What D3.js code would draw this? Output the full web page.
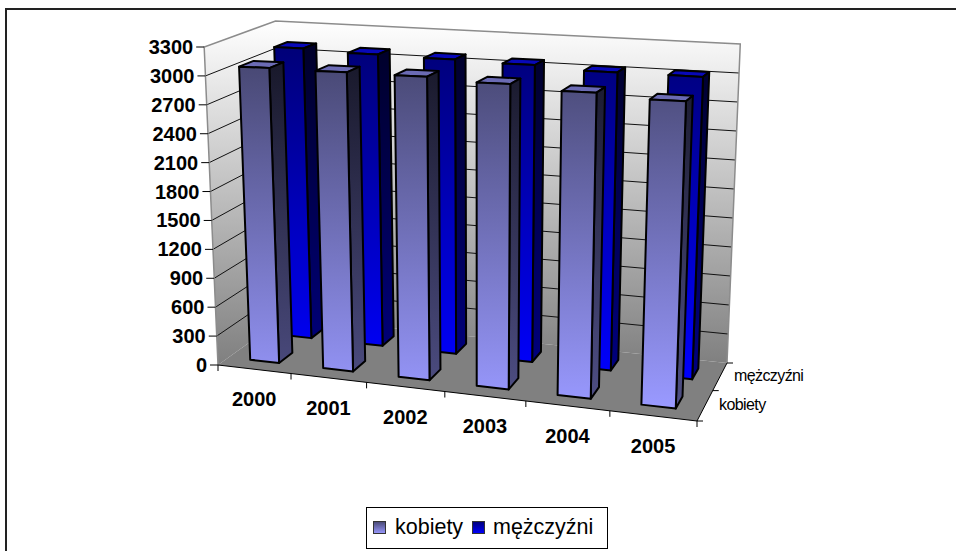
<!DOCTYPE html>
<html><head><meta charset="utf-8">
<script src="https://cdn.jsdelivr.net/npm/d3@7/dist/d3.min.js"></script>
<style>html,body{margin:0;padding:0;background:#fff}svg{display:block}text{font-family:"Liberation Sans",Arial,sans-serif;fill:#000}</style>
</head><body><svg id="c" width="956" height="551"></svg>
<script>
const years = ["2000","2001","2002","2003","2004","2005"];
const seriesNames = ["kobiety","mężczyźni"];
const kobiety = [3060,3053,3047,3012,2968,2927];
const mezczyzni = [3120,3096,3084,3067,3035,3034];
const valueTicks = [0,300,600,900,1200,1500,1800,2100,2400,2700,3000,3300];

// Perspective box: floor corners (u along years, w along depth) and wall heights at those corners
const floorQuad = [[218,365],[697,421],[727,363],[285,317]];
const cornerHeights = [318,354,319,296];
const verticalVanish = [478,6350];

function homography(q){
  const [[x0,y0],[x1,y1],[x2,y2],[x3,y3]] = q;
  const dx1=x1-x2, dx2=x3-x2, sx=x0-x1+x2-x3, dy1=y1-y2, dy2=y3-y2, sy=y0-y1+y2-y3;
  const den=dx1*dy2-dx2*dy1;
  const g=(sx*dy2-dx2*sy)/den, h=(dx1*sy-sx*dy1)/den;
  const a=x1-x0+g*x1, b=x3-x0+h*x3, c=x0, d=y1-y0+g*y1, e=y3-y0+h*y3, f=y0;
  return (u,w)=>{const k=g*u+h*w+1;return [(a*u+b*w+c)/k,(d*u+e*w+f)/k];};
}
const hFloor=homography(floorQuad);
const zScale=d3.scaleLinear().domain([0,3300]).range([0,1]);
const uScale=d3.scaleBand().domain(years).range([0,1]).paddingInner(0.6).paddingOuter(0.3);
const wScale=d3.scaleBand().domain(seriesNames).range([0,1]).paddingInner(0.6).paddingOuter(0.3);
const uSlot=d3.scaleBand().domain(years).range([0,1]);
const wSlot=d3.scaleBand().domain(seriesNames).range([0,1]);
function wallHeight(u,w){
  const [a,b,c,d]=cornerHeights.map(h=>1/h);
  return 1/((1-u)*(1-w)*a+u*(1-w)*b+u*w*c+(1-u)*w*d);
}
function P(u,w,v){
  const f=hFloor(u,w), h=wallHeight(u,w)*zScale(v);
  return [f[0]+(f[0]-verticalVanish[0])*h/(verticalVanish[1]-f[1]), f[1]-h];
}
const line=pts=>"M"+pts.map(p=>p[0].toFixed(2)+","+p[1].toFixed(2)).join("L");
const path=pts=>line(pts)+"Z";

const svg=d3.select("#c");
svg.append("path").attr("d","M6,551V9H956").attr("fill","none").attr("stroke","#222").attr("stroke-width",2);
const defs=svg.append("defs");
function grad(id,y1,y2,stops){
  const g=defs.append("linearGradient").attr("id",id).attr("gradientUnits","userSpaceOnUse").attr("x1",0).attr("x2",0).attr("y1",y1).attr("y2",y2);
  stops.forEach(([o,c])=>g.append("stop").attr("offset",o).attr("stop-color",c));
}
grad("wall",21,363,[[0,"#ffffff"],[1,"#808080"]]);
grad("kf",60,405,[[0,"#474772"],[1,"#9999ff"]]);
grad("ks",60,405,[[0,"#18182a"],[1,"#4f4f85"]]);
grad("mf",45,380,[[0,"#000077"],[1,"#0000ff"]]);
grad("ms",45,380,[[0,"#00002a"],[1,"#000080"]]);

const g=svg.append("g");
g.append("path").attr("d",path([P(0,0,0),P(0,1,0),P(0,1,3300),P(0,0,3300)])).attr("fill","url(#wall)");
g.append("path").attr("d",path([P(0,1,0),P(1,1,0),P(1,1,3300),P(0,1,3300)])).attr("fill","url(#wall)");
g.append("path").attr("d",path([P(0,0,0),P(1,0,0),P(1,1,0),P(0,1,0)])).attr("fill","#808080");
valueTicks.forEach(v=>{
  if(v===0||v===3300)return;
  g.append("path").attr("fill","none").attr("stroke","#111").attr("stroke-width",1)
   .attr("d",line([P(0,0,v),P(0,1,v),P(1,1,v)]));
});
g.append("path").attr("fill","none").attr("stroke","#8c8c8c").attr("stroke-width",1.5)
 .attr("d",line([P(0,0,0),P(0,0,3300),P(0,1,3300),P(1,1,3300),P(1,1,0)]));
const ax=svg.append("g").attr("stroke","#000").attr("stroke-width",1).attr("fill","none");
ax.append("path").attr("d",line([P(1,1,0),P(1,0,0),P(0,0,0)]));
valueTicks.forEach(v=>{
  const p=P(0,0,v);
  ax.append("line").attr("x1",p[0]-8).attr("y1",p[1]).attr("x2",p[0]).attr("y2",p[1]);
  svg.append("text").attr("x",p[0]-11).attr("y",p[1]+7).attr("text-anchor","end")
    .attr("font-size",20).attr("font-weight","bold").text(v);
});
d3.range(years.length+1).forEach(i=>{
  const p=P(i/years.length,0,0);
  ax.append("line").attr("x1",p[0]).attr("y1",p[1]).attr("x2",p[0]).attr("y2",p[1]+6);
});
years.forEach(y=>{
  const p=P(uSlot(y)+uSlot.bandwidth()/2,0,0);
  svg.append("text").attr("x",p[0]).attr("y",p[1]+37).attr("text-anchor","middle")
    .attr("font-size",20).attr("font-weight","bold").text(y);
});
[0,0.5,1].forEach(w=>{
  const p=P(1,w,0);
  ax.append("line").attr("x1",p[0]).attr("y1",p[1]).attr("x2",p[0]+6).attr("y2",p[1]);
});
seriesNames.forEach(s=>{
  const p=P(1,wSlot(s)+wSlot.bandwidth()/2,0);
  svg.append("text").attr("x",p[0]+14).attr("y",p[1]+5)
    .attr("font-size",16).attr("letter-spacing",-0.6).text(s);
});
function bar(parent,u0,u1,w0,w1,v,fa,fb,topColor){
  const FL=P(u0,w0,v),FR=P(u1,w0,v),BR=P(u1,w1,v),BL=P(u0,w1,v);
  const fl=P(u0,w0,0),fr=P(u1,w0,0),br=P(u1,w1,0);
  const gb=parent.append("g").attr("stroke","#000").attr("stroke-width",2).attr("stroke-linejoin","round");
  gb.append("path").attr("d",path([FL,FR,BR,BL])).attr("fill",topColor);
  gb.append("path").attr("d",path([FR,BR,br,fr])).attr("fill",`url(#${fb})`);
  gb.append("path").attr("d",path([FL,FR,fr,fl])).attr("fill",`url(#${fa})`);
}
const marks=svg.append("g");
[["mężczyźni",mezczyzni,"mf","ms","#0808b8"],["kobiety",kobiety,"kf","ks","#6b6bb4"]].forEach(([s,vals,fa,fb,tc])=>{
  years.forEach((y,i)=>{
    bar(marks,uScale(y),uScale(y)+uScale.bandwidth(),wScale(s),wScale(s)+wScale.bandwidth(),vals[i],fa,fb,tc);
  });
});
const lg=svg.append("g");
lg.append("rect").attr("x",366.5).attr("y",507.5).attr("width",241).attr("height",41).attr("fill","#fff").attr("stroke","#000");
const lx=[{s:seriesNames[0],bx:373.5,tx:395,c:"url(#lk)"},{s:seriesNames[1],bx:472.5,tx:493,c:"url(#lm)"}];
defs.append("linearGradient").attr("id","lk").attr("x1",0).attr("x2",0).attr("y1",0).attr("y2",1).call(g=>{g.append("stop").attr("offset",0).attr("stop-color","#474772");g.append("stop").attr("offset",1).attr("stop-color","#9999ff");});
defs.append("linearGradient").attr("id","lm").attr("x1",0).attr("x2",0).attr("y1",0).attr("y2",1).call(g=>{g.append("stop").attr("offset",0).attr("stop-color","#000077");g.append("stop").attr("offset",1).attr("stop-color","#0000ff");});
lx.forEach(d=>{
  lg.append("rect").attr("x",d.bx).attr("y",521.5).attr("width",12).attr("height",12).attr("fill",d.c).attr("stroke","#333");
  lg.append("text").attr("x",d.tx).attr("y",534).attr("font-size",21.5).text(d.s);
});
</script></body></html>
